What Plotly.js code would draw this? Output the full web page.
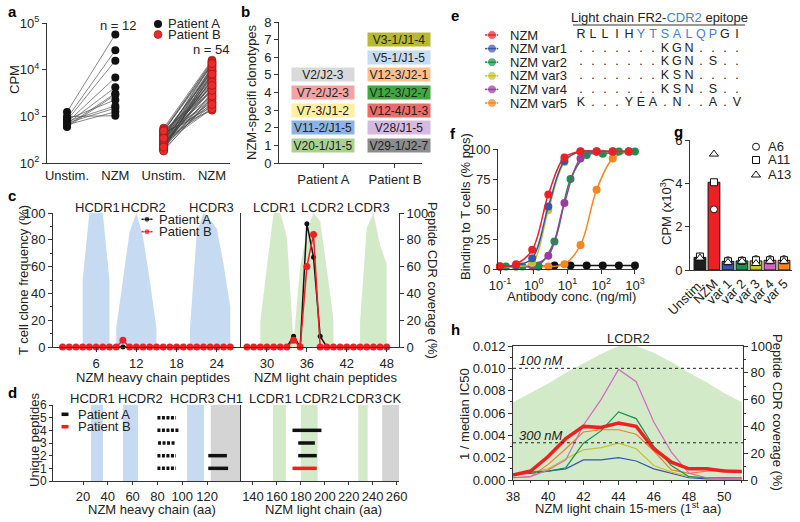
<!DOCTYPE html>
<html>
<head>
<meta charset="utf-8">
<script src="https://cdn.plot.ly/plotly-3.0.1.min.js"></script>
<style>
  html, body { margin: 0; padding: 0; background: #fff; }
  #fig { width: 800px; height: 522px; }
</style>
</head>
<body>
<div id="fig"></div>
<script>
const W = 800, H = 522;
const FONT = 'Liberation Sans, Arial, sans-serif';
const INK = '#222';

// ---------- a: CPM unstim vs NZM ----------
const aCats = ['Unstim.', 'NZM', 'Unstim.', 'NZM'];
const aPatients = ['Patient A', 'Patient B'];
const aUnstimA = [1240, 910, 820, 740, 690, 630, 590, 860, 780, 720, 660, 990];
const aNzmA = [57000, 26000, 15600, 6800, 4200, 3100, 2900, 2250, 1670, 1500, 1250, 1030];
const aUnstimB = [560, 210, 430, 300, 250, 480, 190, 360, 330, 275,
                  520, 225, 400, 310, 260, 450, 200, 345, 290, 380,
                  240, 470, 185, 320, 410, 270, 230, 500, 350, 215,
                  390, 280, 255, 440, 195, 305, 365, 245, 420, 285,
                  205, 335, 460, 265, 235, 375, 295, 180, 425, 315,
                  220, 355, 490, 340];
const aNzmB = [16000, 3200, 9000, 1500, 6200, 12500, 2400, 7800, 4500, 1900,
               14500, 5200, 2800, 10500, 3700, 1350, 8400, 6800, 2100, 11000,
               4100, 15200, 2600, 5600, 9600, 1700, 7200, 3400, 13000, 4800,
               2300, 8800, 6000, 1600, 10000, 3900, 5000, 12000, 2000, 7500,
               3000, 14000, 4300, 1450, 6500, 9200, 2700, 11500, 5400, 3600,
               8000, 1800, 13500, 4600];

// ---------- b: NZM-specific clonotypes ----------
const bPatients = ['Patient A', 'Patient B'];
const bClonesA = ['V20-1/J1-5', 'V11-2/J1-5', 'V7-3/J1-2', 'V7-2/J2-3', 'V2/J2-3'];
const bColorsA = ['#a9d18e', '#8db3e2', '#fff0a0', '#f4a3a3', '#d9d9d9'];
const bClonesB = ['V29-1/J2-7', 'V28/J1-5', 'V12-4/J1-3', 'V12-3/J2-7', 'V12-3/J2-1', 'V5-1/J1-5', 'V3-1/J1-4'];
const bColorsB = ['#8c8c8c', '#d6b9e0', '#ee6b6b', '#3fa93f', '#fac18f', '#c6dcf1', '#b9b832'];

// ---------- e / f: variants and binding ----------
const eNames = ['NZM', 'NZM var1', 'NZM var2', 'NZM var3', 'NZM var4', 'NZM var5'];
const eColors = ['#ee2024', '#3656ad', '#17924a', '#c3c42a', '#9a3d9d', '#f7861c'];
const eSeqs = ['RLLIHYTSALQPGI', '.......KGN....', '.......KGN.S..',
               '.......KSN....', '.......KSN.S..', 'K...YEA.N..A.V'];
const eCdr2From = 5, eCdr2To = 11;   // blue residues in the NZM row

const fConcA = [0.1, 0.3, 0.9, 2.7, 8.1, 24.3, 72.9, 218.7, 656.1];
const fConcB = [0.15, 0.46, 1.37, 4.1, 12.3, 37, 111, 333, 1000];
const fConcCtrl = [1.37, 4.1, 12.3, 37, 111, 333, 1000];
const fNzm  = [2, 4, 16, 62, 93, 98, 98, 98, 98];
const fVar1 = [2, 3, 9, 52, 90, 98, 98, 98, 98];
const fVar2 = [2, 2, 3, 23, 75, 95, 96, 98, 98];
const fVar3 = [2, 2, 5, 49, 89, 98, 98, 98, 98];
const fVar4 = [2, 2, 3, 11, 55, 92, 98, 98, 98];
const fVar5 = [2, 2, 2, 2, 4, 20, 66, 92, 98];
const fCtrl = [2, 3, 3, 3, 3, 3, 3];

// ---------- g: CPM by donor ----------
const gCats = ['Unstim.', 'NZM', 'var 1', 'var 2', 'var 3', 'var 4', 'var 5'];
const gColors = ['#1e1e1e', '#ee2024', '#3656ad', '#17924a', '#c8c62c', '#d564b8', '#f7861c'];
const gMean = [0.58, 4.05, 0.4, 0.42, 0.42, 0.45, 0.45];
const gA6  = [0.62, 2.8, 0.45, 0.45, 0.5, 0.5, 0.5];
const gA11 = [0.62, 4.05, 0.4, 0.42, 0.45, 0.45, 0.45];
const gA13 = [0.55, 5.35, 0.35, 0.4, 0.3, 0.4, 0.4];
const gDonors = ['A6', 'A11', 'A13'];

// ---------- c: clone frequency per peptide ----------
const cHeavyPep = [1, 2, 3, 4, 5, 6, 7, 8, 9, 10, 11, 12, 13, 14, 15, 16, 17, 18, 19, 20, 21, 22, 23, 24, 25, 26];
const cHeavyA = [0, 0, 0, 0, 0, 0, 0, 0, 0, 0, 0, 0, 0, 0, 0, 0, 0, 0, 0, 0, 0, 0, 0, 0, 0, 0];
const cHeavyB = [0, 0, 0, 0, 0, 0, 0, 0, 0, 5, 0, 0, 0, 0, 0, 0, 0, 0, 0, 0, 0, 0, 0, 0, 0, 0];
const cLightPep = [27, 28, 29, 30, 31, 32, 33, 34, 35, 36, 37, 38, 39, 40, 41, 42, 43, 44, 45, 46, 47, 48];
const cLightA = [0, 0, 0, 0, 0, 0, 0, 8, 0, 92, 67, 8, 0, 0, 0, 0, 0, 0, 0, 0, 0, 0];
const cLightB = [0, 0, 0, 0, 0, 0, 0, 5, 0, 60, 84, 0, 0, 0, 0, 0, 0, 0, 0, 0, 0, 0];
const cHcdr1Pep = [4, 5, 6, 7, 8],               cHcdr1Cov = [50, 100, 100, 100, 50];
const cHcdr2Pep = [9, 10, 11, 12, 13, 14, 15],   cHcdr2Cov = [14, 50, 86, 100, 82, 50, 14];
const cHcdr3Pep = [20, 21, 22, 23, 24, 25, 26],  cHcdr3Cov = [14, 85, 100, 95, 88, 62, 30];
const cLcdr1Pep = [29, 30, 31, 32, 33, 34],      cLcdr1Cov = [19, 60, 100, 100, 82, 3];
const cLcdr2Pep = [34, 35, 36, 37, 38, 39, 40],  cLcdr2Cov = [4, 60, 86, 100, 94, 58, 21];
const cLcdr3Pep = [44, 45, 46, 47, 48],          cLcdr3Cov = [19, 89, 100, 76, 62];
const cHeavyLabels = ['HCDR1', 'HCDR2', 'HCDR3'];
const cLightLabels = ['LCDR1', 'LCDR2', 'LCDR3'];

// ---------- d: unique peptides along the chains ----------
const dHeavyRegions = ['HCDR1', 'HCDR2', 'HCDR3', 'CH1'];
const dHeavyRegStart = [26.4, 52.2, 103.9, 123];
const dHeavyRegEnd = [36.1, 64.3, 117.6, 147.4];
const dLightRegions = ['LCDR1', 'LCDR2', 'LCDR3', 'CK'];
const dLightRegStart = [156.7, 180, 228, 248];
const dLightRegEnd = [167.5, 194, 235.8, 262];
const dHeavyStart = [80, 80, 80.5, 80, 80, 121, 121];
const dHeavyEnd = [95, 97, 94, 95, 95, 136, 137];
const dHeavyLevel = [5, 4, 3, 2, 1, 2, 1];
const dHeavyHatched = [true, true, true, true, true, false, false];
const dLightStart = [173, 177.8, 177.8, 173];
const dLightEnd = [197.2, 191.7, 193.3, 193.3];
const dLightLevel = [4, 3, 2, 1];
const dLightPatient = ['A', 'A', 'A', 'B'];

// ---------- h: 1/median IC50 along LCDR2 ----------
const hPos = [38, 39, 40, 41, 42, 43, 44, 45, 46, 47, 48, 49, 50, 51];
const hCoverage = [58, 65, 72, 80, 87, 94, 100, 100, 95, 88, 80, 73, 65, 58];
const hBlue   = [0.0005, 0.0006, 0.0008, 0.0010, 0.0018, 0.0018, 0.0020, 0.0017, 0.0010, 0.0006, 0.0002, 0.0001, 0.0001, 0.0001];
const hYellow = [0.0004, 0.0007, 0.0010, 0.0019, 0.0027, 0.0029, 0.0033, 0.0028, 0.0013, 0.0007, 0.0003, 0.0002, 0.0002, 0.0001];
const hOrange = [0.0002, 0.0003, 0.0014, 0.0028, 0.0043, 0.0045, 0.0045, 0.0041, 0.0026, 0.0009, 0.0006, 0.0008, 0.0009, 0.0007];
const hGreen  = [0.0005, 0.0007, 0.0008, 0.0011, 0.0033, 0.0044, 0.0061, 0.0055, 0.0030, 0.0013, 0.0003, 0.0002, 0.0002, 0.0002];
const hPink   = [0.0002, 0.0003, 0.0009, 0.0018, 0.0049, 0.0072, 0.0099, 0.0088, 0.0052, 0.0025, 0.0006, 0.0002, 0.0001, 0.0001];
const hMedian = [0.00045, 0.0008, 0.0021, 0.0037, 0.0048, 0.0047, 0.0051, 0.0048, 0.0028, 0.0016, 0.0010, 0.0010, 0.0008, 0.00075];
const hRefIC50 = [100, 300];   // nM

// ---------- helpers ----------
function xDom(l, r) { return [l / W, r / W]; }
function yDom(t, b) { return [1 - b / H, 1 - t / H]; }
function axis(o) {
    return Object.assign({
        showline: true, linecolor: '#333', linewidth: 1,
        ticks: 'outside', ticklen: 4, tickwidth: 1, tickcolor: '#333',
        showgrid: false, zeroline: false, fixedrange: true,
        tickfont: {family: FONT, size: 13, color: INK}
    }, o);
}
const traces = [];
const annotations = [];
const shapes = [];
function note(text, x, y, o) {
    annotations.push(Object.assign({
        text: text, x: x / W, y: 1 - y / H, xref: 'paper', yref: 'paper',
        showarrow: false, xanchor: 'center', yanchor: 'middle',
        font: {family: FONT, size: 13, color: INK}
    }, o || {}));
}
function letter(t, x, y) {
    note('<b>' + t + '</b>', x, y, {xanchor: 'left', font: {family: FONT, size: 15, color: '#000'}});
}
// legend glyphs live on a hidden full-figure axis in pixel units
function glyph(xc, yc, half, color, mode, marker, lw) {
    traces.push({
        x: mode === 'markers' ? [xc] : [xc - half, xc, xc + half],
        y: mode === 'markers' ? [yc] : [yc, yc, yc],
        mode: mode, xaxis: 'x11', yaxis: 'y12', hoverinfo: 'skip', showlegend: false,
        line: {color: color, width: lw || 1.5},
        marker: marker, cliponaxis: false
    });
}

// ---------- a ----------
function pairLines(u, n, x0, x1) {
    const xs = [], ys = [];
    for (let i = 0; i < u.length; i++) {
        xs.push(x0, x1, null);
        ys.push(u[i], n[i], null);
    }
    return {xs: xs, ys: ys};
}
const la = pairLines(aUnstimA, aNzmA, 0, 1);
const lb = pairLines(aUnstimB, aNzmB, 2, 3);
traces.push({x: la.xs, y: la.ys, mode: 'lines', line: {color: '#555', width: 0.7}, hoverinfo: 'skip'});
traces.push({x: lb.xs, y: lb.ys, mode: 'lines', line: {color: '#444', width: 0.6}, hoverinfo: 'skip'});
traces.push({
    x: aUnstimA.map(() => 0).concat(aNzmA.map(() => 1)), y: aUnstimA.concat(aNzmA),
    mode: 'markers', name: aPatients[0], marker: {color: '#111', size: 8}
});
traces.push({
    x: aUnstimB.map(() => 2).concat(aNzmB.map(() => 3)), y: aUnstimB.concat(aNzmB),
    mode: 'markers', name: aPatients[1],
    marker: {color: '#ec2a2a', size: 8, line: {color: '#8a1515', width: 0.6}}
});
glyph(158, 24, 0, '#111', 'markers', {color: '#111', size: 8});
glyph(158, 34.5, 0, '#ec2a2a', 'markers', {color: '#ec2a2a', size: 8, line: {color: '#8a1515', width: 0.6}});
note(aPatients[0], 166, 24, {xanchor: 'left'});
note(aPatients[1], 166, 34.5, {xanchor: 'left'});
note('n = 12', 118, 26);
note('n = 54', 211, 49);
note('CPM', 15, 80, {textangle: -90});
letter('a', 6, 12);

// ---------- b ----------
traces.push({
    x: bClonesA.map(() => 0).concat(bClonesB.map(() => 1)),
    y: bClonesA.map((c, i) => i + 1).concat(bClonesB.map((c, i) => i + 1)),
    text: bClonesA.concat(bClonesB), mode: 'markers', marker: {opacity: 0},
    xaxis: 'x2', yaxis: 'y2', hoverinfo: 'text'
});
bClonesA.forEach((c, i) => annotations.push({
    text: c, x: 0, y: i + 1, xref: 'x2', yref: 'y2', showarrow: false,
    bgcolor: bColorsA[i], width: 62, height: 13, borderpad: 0,
    font: {family: FONT, size: 12, color: INK}
}));
bClonesB.forEach((c, i) => annotations.push({
    text: c, x: 1, y: i + 1, xref: 'x2', yref: 'y2', showarrow: false, xshift: 4,
    bgcolor: bColorsB[i], width: 62, height: 13, borderpad: 0,
    font: {family: FONT, size: 12, color: INK}
}));
note('NZM-specifi clonotypes', 252, 92, {textangle: -90});
letter('b', 239, 12);

// ---------- e ----------
eNames.forEach((n, i) => {
    traces.push({
        x: [-8, -7.42, -6.9], y: [i, i, i], mode: 'lines+markers',
        xaxis: 'x3', yaxis: 'y3', hoverinfo: 'skip',
        line: {color: eColors[i], width: 1.5}, marker: {color: eColors[i], size: [0, 9, 0]}
    });
    annotations.push({
        text: n, x: 508 / W, y: i, xref: 'paper', yref: 'y3', xanchor: 'left', yanchor: 'middle',
        showarrow: false, font: {family: FONT, size: 13, color: INK}
    });
});
(function () {
    const xs = [], ys = [], txt = [], col = [];
    eSeqs.forEach((s, r) => {
        for (let k = 0; k < s.length; k++) {
            xs.push(k); ys.push(r); txt.push(s[k]);
            col.push(r === 0 && k >= eCdr2From && k <= eCdr2To ? '#3f7fd0' : INK);
        }
    });
    traces.push({
        x: xs, y: ys, text: txt, mode: 'text', xaxis: 'x3', yaxis: 'y3', hoverinfo: 'skip',
        textfont: {family: FONT, size: 12.5, color: col}, textposition: 'middle center'
    });
})();
note('Light chain FR2-<span style="color:#3f7fd0">CDR2</span> epitope', 659, 17);
shapes.push({type: 'line', xref: 'paper', yref: 'paper', x0: 573 / W, x1: 745 / W,
             y0: 1 - 25 / H, y1: 1 - 25 / H, line: {color: '#333', width: 1}});
letter('e', 449, 15);

// ---------- f ----------
const fSeries = [
    {x: fConcCtrl, y: fCtrl, c: '#111', n: 'Control'},
    {x: fConcA, y: fVar5, c: eColors[5], n: eNames[5]},
    {x: fConcB, y: fVar2, c: eColors[2], n: eNames[2]},
    {x: fConcA, y: fVar4, c: eColors[4], n: eNames[4]},
    {x: fConcA, y: fVar3, c: eColors[3], n: eNames[3]},
    {x: fConcA, y: fVar1, c: eColors[1], n: eNames[1]},
    {x: fConcA, y: fNzm, c: eColors[0], n: eNames[0]}
];
fSeries.forEach(s => traces.push({
    x: s.x, y: s.y, name: s.n, mode: 'lines+markers', xaxis: 'x4', yaxis: 'y4',
    line: {color: s.c, width: 1.5, shape: 'spline', smoothing: 1},
    marker: {color: s.c, size: 8}, cliponaxis: false
}));
note('Binding to T cells (% pos)', 465, 207, {textangle: -90});
note('Antibody conc. (ng/ml)', 571, 296);
letter('f', 448, 134);

// ---------- g ----------
traces.push({
    type: 'bar', x: [0, 1, 2, 3, 4, 5, 6], y: gMean, xaxis: 'x5', yaxis: 'y5', width: 0.84,
    marker: {color: gColors, line: {color: '#111', width: 1}}, hovertext: gCats
});
const gSym = ['circle', 'square', 'triangle-up'];
[gA6, gA11, gA13].forEach((v, k) => traces.push({
    x: [0, 1, 2, 3, 4, 5, 6], y: v, name: gDonors[k], mode: 'markers', xaxis: 'x5', yaxis: 'y5',
    marker: {symbol: gSym[k], color: '#fff', size: k === 2 ? 8 : 7, line: {color: '#111', width: 1}},
    cliponaxis: false
}));
[146.7, 160, 175].forEach((yy, k) => {
    glyph(756, yy, 0, '#111', 'markers',
          {symbol: gSym[k], color: '#fff', size: k === 2 ? 8 : 7, line: {color: '#111', width: 1}});
    note(gDonors[k], 766, yy, {xanchor: 'left'});
});
note('CPM (x10<sup>3</sup>)', 666, 212, {textangle: -90});
letter('g', 672, 131);

// ---------- c ----------
function cdrPoly(pep, cov, color, xa, ya) {
    traces.push({
        x: [pep[0]].concat(pep, [pep[pep.length - 1]]), y: [0].concat(cov, [0]),
        mode: 'lines', fill: 'toself', fillcolor: color, line: {width: 0},
        xaxis: xa, yaxis: ya, hoverinfo: 'skip'
    });
}
const BLUE_BG = '#c6dbf2', GREEN_BG = '#d3eac8';
cdrPoly(cHcdr1Pep, cHcdr1Cov, BLUE_BG, 'x6', 'y6');
cdrPoly(cHcdr2Pep, cHcdr2Cov, BLUE_BG, 'x6', 'y6');
cdrPoly(cHcdr3Pep, cHcdr3Cov, BLUE_BG, 'x6', 'y6');
cdrPoly(cLcdr1Pep, cLcdr1Cov, GREEN_BG, 'x7', 'y7');
cdrPoly(cLcdr2Pep, cLcdr2Cov, GREEN_BG, 'x7', 'y7');
cdrPoly(cLcdr3Pep, cLcdr3Cov, GREEN_BG, 'x7', 'y7');
[[cHeavyPep, cHeavyA, cHeavyB, 'x6', 'y6'], [cLightPep, cLightA, cLightB, 'x7', 'y7']].forEach(p => {
    traces.push({x: p[0], y: p[1], name: aPatients[0], mode: 'lines+markers', xaxis: p[3], yaxis: p[4],
                 line: {color: '#111', width: 1.5}, marker: {color: '#111', size: 5}, cliponaxis: false});
    traces.push({x: p[0], y: p[2], name: aPatients[1], mode: 'lines+markers', xaxis: p[3], yaxis: p[4],
                 line: {color: '#ee2024', width: 1.5}, marker: {color: '#ee2024', size: 7}, cliponaxis: false});
});
glyph(147, 219.3, 5.5, '#111', 'lines+markers', {color: '#111', size: [0, 6, 0]});
glyph(147, 231.7, 5.5, '#ee2024', 'lines+markers', {color: '#ee2024', size: [0, 6, 0]});
note(aPatients[0], 157, 219.3, {xanchor: 'left'});
note(aPatients[1], 157, 231.7, {xanchor: 'left'});
[97, 143, 211].forEach((x, i) => note(cHeavyLabels[i], x, 207));
[274, 322, 368].forEach((x, i) => note(cLightLabels[i], x, 207));
note('T cell clone frequency (%)', 23, 280, {textangle: -90});
note('Peptide CDR coverage (%)', 433, 280, {textangle: 90});
note('NZM heavy chain peptides', 153, 377);
note('NZM light chain peptides', 326, 377);
letter('c', 6, 195);

// ---------- d ----------
const GREY_BG = '#d4d4d4';
dHeavyRegions.forEach((r, i) => shapes.push({
    type: 'rect', xref: 'x8', yref: 'y8 domain', x0: dHeavyRegStart[i], x1: dHeavyRegEnd[i], y0: 0, y1: 1,
    fillcolor: r === 'CH1' ? GREY_BG : BLUE_BG, line: {width: 0}, layer: 'below'
}));
dLightRegions.forEach((r, i) => shapes.push({
    type: 'rect', xref: 'x9', yref: 'y9 domain', x0: dLightRegStart[i], x1: dLightRegEnd[i], y0: 0, y1: 1,
    fillcolor: r === 'CK' ? GREY_BG : GREEN_BG, line: {width: 0}, layer: 'below'
}));
function segs(st, en, lv, keep) {
    const xs = [], ys = [];
    for (let i = 0; i < st.length; i++) {
        if (!keep(i)) continue;
        xs.push(st[i], en[i], null);
        ys.push(lv[i], lv[i], null);
    }
    return {x: xs, y: ys};
}
const dh1 = segs(dHeavyStart, dHeavyEnd, dHeavyLevel, i => dHeavyHatched[i]);
const dh2 = segs(dHeavyStart, dHeavyEnd, dHeavyLevel, i => !dHeavyHatched[i]);
const dl1 = segs(dLightStart, dLightEnd, dLightLevel, i => dLightPatient[i] === 'A');
const dl2 = segs(dLightStart, dLightEnd, dLightLevel, i => dLightPatient[i] === 'B');
traces.push({x: dh1.x, y: dh1.y, mode: 'lines', xaxis: 'x8', yaxis: 'y8', name: aPatients[0],
             line: {color: '#111', width: 3.5, dash: '3px,1.5px'}});
traces.push({x: dh2.x, y: dh2.y, mode: 'lines', xaxis: 'x8', yaxis: 'y8', name: aPatients[0],
             line: {color: '#111', width: 3.5}});
traces.push({x: dl1.x, y: dl1.y, mode: 'lines', xaxis: 'x9', yaxis: 'y9', name: aPatients[0],
             line: {color: '#111', width: 3.5}});
traces.push({x: dl2.x, y: dl2.y, mode: 'lines', xaxis: 'x9', yaxis: 'y9', name: aPatients[1],
             line: {color: '#ee2024', width: 3.5}});
glyph(65, 414.3, 3.5, '#111', 'lines', {size: 0}, 3.5);
glyph(65, 426.7, 3.5, '#ee2024', 'lines', {size: 0}, 3.5);
note(aPatients[0], 76, 414.3, {xanchor: 'left'});
note(aPatients[1], 76, 426.7, {xanchor: 'left'});
[92, 140, 192, 230].forEach((x, i) => note(dHeavyRegions[i], x, 398));
[270, 316, 360, 392].forEach((x, i) => note(dLightRegions[i], x, 398));
note('Unique peptides', 34, 440, {textangle: -90});
note('NZM heavy chain (aa)', 152, 509);
note('NZM light chain (aa)', 323, 509);
letter('d', 6, 392);

// ---------- h ----------
traces.push({x: hPos, y: hCoverage, mode: 'lines', fill: 'tozeroy', fillcolor: '#d3eac8',
             line: {width: 0}, xaxis: 'x10', yaxis: 'y10', hoverinfo: 'skip'});
[[hBlue, '#3656ad', 1.2], [hYellow, '#c8c030', 1.2], [hOrange, '#f47c30', 1.2],
 [hGreen, '#17924a', 1.2], [hPink, '#d468c0', 1.2], [hMedian, '#ee2024', 3.5]].forEach(s => traces.push({
    x: hPos, y: s[0], mode: 'lines', xaxis: 'x10', yaxis: 'y11', line: {color: s[1], width: s[2]}
}));
hRefIC50.forEach(nm => shapes.push({
    type: 'line', xref: 'x10 domain', yref: 'y11', x0: 0, x1: 1, y0: 1 / nm, y1: 1 / nm,
    line: {color: '#222', width: 1, dash: 'dot'}
}));
note('<i>100 nM</i>', 517, 360, {xanchor: 'left'});
note('<i>300 nM</i>', 517, 435, {xanchor: 'left'});
note('LCDR2', 628, 338);
note('1 / median IC50', 464, 414, {textangle: -90});
note('Peptide CDR coverage (%)', 778, 412, {textangle: 90});
note('NZM light chain 15-mers (1<sup>st</sup> aa)', 628, 508);
letter('h', 449, 329);

const sup = e => '10<sup>' + e + '</sup>';
const layout = {
    width: W, height: H,
    margin: {l: 0, r: 0, t: 0, b: 0},
    paper_bgcolor: '#fff', plot_bgcolor: 'rgba(0,0,0,0)',
    font: {family: FONT, size: 13, color: INK},
    showlegend: false,
    // a
    xaxis: axis({domain: xDom(47, 230), anchor: 'y', range: [-0.414, 3.373],
                 tickvals: [0, 1, 2, 3], ticktext: aCats, ticks: ''}),
    yaxis: axis({domain: yDom(23, 163), anchor: 'x', type: 'log', range: [2, 5],
                 tickvals: [1e2, 1e3, 1e4, 1e5], ticktext: [sup(2), sup(3), sup(4), sup(5)]}),
    // b
    xaxis2: axis({domain: xDom(279, 422), anchor: 'y2', range: [-0.618, 1.377],
                  tickvals: [0, 1], ticktext: bPatients}),
    yaxis2: axis({domain: yDom(22, 163), anchor: 'x2', range: [0, 8], dtick: 1}),
    // e (hidden grid for the sequence table)
    xaxis3: {domain: xDom(480, 760), anchor: 'y3', range: [-8.42, 14.92], visible: false, fixedrange: true},
    yaxis3: {domain: yDom(20, 112), anchor: 'x3', range: [5.662, -1.103], visible: false, fixedrange: true},
    // f
    xaxis4: axis({domain: xDom(498, 637), anchor: 'y4', type: 'log', range: [-1.06, 3.06],
                  tickvals: [0.1, 1, 10, 100, 1000], ticktext: [sup(-1), sup(0), sup(1), sup(2), sup(3)]}),
    yaxis4: axis({domain: yDom(149, 269), anchor: 'x4', range: [0, 100], dtick: 25}),
    // g
    xaxis5: axis({domain: xDom(690, 792), anchor: 'y5', range: [-0.71, 6.57],
                  tickvals: [0, 1, 2, 3, 4, 5, 6], ticktext: gCats, tickangle: -45, ticks: ''}),
    yaxis5: axis({domain: yDom(140, 270), anchor: 'x5', range: [0, 6], dtick: 2}),
    // c
    xaxis6: axis({domain: xDom(53, 241), anchor: 'y6', range: [-0.42, 27.6], tickvals: [6, 12, 18, 24]}),
    yaxis6: axis({domain: yDom(213, 347), anchor: 'x6', range: [0, 100], dtick: 20,
                  minor: {ticks: 'outside', ticklen: 2, dtick: 10, tickcolor: '#333'}}),
    xaxis7: axis({domain: xDom(241, 399), anchor: 'y7', range: [26.1, 49.85], tickvals: [30, 36, 42, 48]}),
    yaxis7: axis({domain: yDom(213, 347), anchor: 'x7', range: [0, 100], dtick: 20, side: 'right', mirror: true}),
    // d
    xaxis8: axis({domain: xDom(53, 241), anchor: 'y8', range: [-4.2, 147.4], ticklen: 3,
                  tickvals: [20, 40, 60, 80, 100, 120]}),
    yaxis8: axis({domain: yDom(405, 481), anchor: 'x8', range: [0, 6], dtick: 1, ticklen: 3,
                  tickfont: {family: FONT, size: 12, color: INK}}),
    xaxis9: axis({domain: xDom(241, 399), anchor: 'y9', range: [130, 262], ticklen: 3,
                  tickvals: [140, 160, 180, 200, 220, 240, 260]}),
    yaxis9: axis({domain: yDom(405, 481), anchor: 'x9', range: [0, 6], ticks: '', showticklabels: false}),
    // h
    xaxis10: axis({domain: xDom(513, 743), anchor: 'y10', range: [38, 51.07], dtick: 2, mirror: true,
                   minor: {ticks: 'outside', ticklen: 2, dtick: 1, tickcolor: '#333'}}),
    yaxis10: axis({domain: yDom(346, 480), anchor: 'x10', range: [0, 100], dtick: 20, side: 'right',
                   minor: {ticks: 'outside', ticklen: 2, dtick: 10, tickcolor: '#333'}}),
    yaxis11: axis({domain: yDom(346, 480), anchor: 'x10', overlaying: 'y10', side: 'left',
                   range: [0, 0.012], dtick: 0.002, tickformat: '.3f',
                   minor: {ticks: 'outside', ticklen: 2, dtick: 0.001, tickcolor: '#333'}}),
    // hidden pixel grid for legend glyphs
    xaxis11: {domain: [0, 1], anchor: 'y12', range: [0, W], visible: false, fixedrange: true},
    yaxis12: {domain: [0, 1], anchor: 'x11', range: [H, 0], visible: false, fixedrange: true},
    annotations: annotations,
    shapes: shapes
};

Plotly.newPlot('fig', traces, layout, {displayModeBar: false, staticPlot: true});
</script>
</body>
</html>
